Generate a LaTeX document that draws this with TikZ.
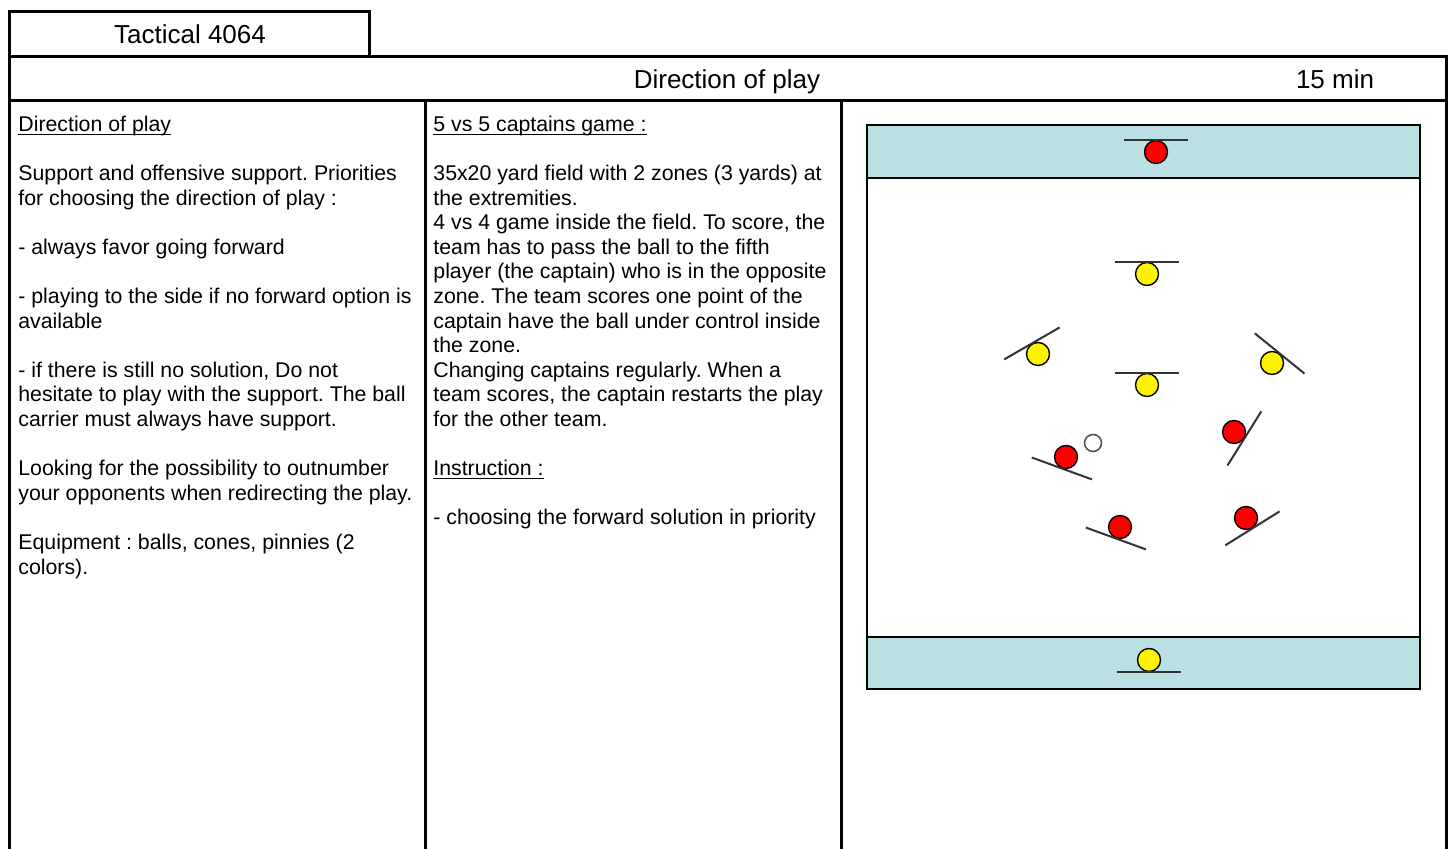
\documentclass[tikz,border=0pt]{standalone}
\usepackage{fontspec}
\setmainfont{Liberation Sans}
\usetikzlibrary{calc}
\definecolor{zonefill}{HTML}{BAE0E3}
\definecolor{barline}{HTML}{333333}
\definecolor{ballline}{HTML}{555555}
\newcommand{\headul}[1]{\underline{\smash{#1}}}
\frenchspacing

\begin{document}
\begin{tikzpicture}[x=0.5pt, y=0.5pt,
    frame/.style={draw=black, line width=1.5pt},
    title/.style={font=\fontsize{13}{15}\selectfont, inner sep=0pt, anchor=base},
    body/.style={font=\fontsize{10.65}{12.3}\selectfont, align=left, inner sep=0pt, anchor=north west},
    zone/.style={draw=black, line width=1pt, fill=zonefill},
    player/.style={circle, draw=black, line width=0.7pt, minimum size=11.5pt, inner sep=0pt},
    ball/.style={circle, draw=ballline, line width=0.8pt, fill=white, minimum size=8.5pt, inner sep=0pt},
    bar/.style={draw=barline, line width=1pt}
  ]
  \useasboundingbox (0,0) rectangle (1454,849);
  \fill[white] (0,0) rectangle (1454,849);

  \draw[frame] (9,792) rectangle (369,837);
  \draw[frame] (9,748) rectangle (1446,792);
  \draw[frame] (9,-10) rectangle (1446,748);
  \draw[frame] (425,748) -- (425,-10);
  \draw[frame] (841,748) -- (841,-10);

  \node[title] (tactical) at (190,805) {Tactical 4064};
  \node[title] (playtitle) at (727,760) {Direction of play};
  \node[title] (duration) at (1335,760) {15 min};

  \node[body] (theme) at (18,718) {\headul{Direction of play}\\
    ~\\
    Support and offensive support. Priorities\\
    for choosing the direction of play :\\
    ~\\
    - always favor going forward\\
    ~\\
    - playing to the side if no forward option is\\
    available\\
    ~\\
    - if there is still no solution, Do not\\
    hesitate to play with the support. The ball\\
    carrier must always have support.\\
    ~\\
    Looking for the possibility to outnumber\\
    your opponents when redirecting the play.\\
    ~\\
    Equipment : balls, cones, pinnies (2\\
    colors).};

  \node[body] (exercise) at (433,718) {\headul{5 vs 5 captains game :}\\
    ~\\
    35x20 yard field with 2 zones (3 yards) at\\
    the extremities.\\
    4 vs 4 game inside the field. To score, the\\
    team has to pass the ball to the fifth\\
    player (the captain) who is in the opposite\\
    zone. The team scores one point of the\\
    captain have the ball under control inside\\
    the zone.\\
    Changing captains regularly. When a\\
    team scores, the captain restarts the play\\
    for the other team.\\
    ~\\
    \headul{Instruction :}\\
    ~\\
    - choosing the forward solution in priority};

  % field
  \draw[zone, fill=white] (867,160) rectangle (1420,724);
  \draw[zone] (867,671) rectangle (1420,724);
  \draw[zone] (867,160) rectangle (1420,212);

  \foreach \name/\col/\px/\py/\ang in {capred/red/1156/697/90, capyellow/yellow/1149/189/-90,
      yfront/yellow/1147/575/90, yleft/yellow/1038/495/120, ymid/yellow/1147/464/90,
      yright/yellow/1272/486/51, rleft/red/1066/392/-110, rright/red/1234/417/-32,
      rback/red/1120/322/-110, rwing/red/1246/331/-58} {
    \node[player, fill=\col] (\name) at (\px,\py) {};
    \draw[bar] ($(\name.\ang)+(\ang+90:16pt)$) -- ($(\name.\ang)+(\ang-90:16pt)$);
  }
  \node[ball] (ballpos) at (1093,406) {};
\end{tikzpicture}
\end{document}
